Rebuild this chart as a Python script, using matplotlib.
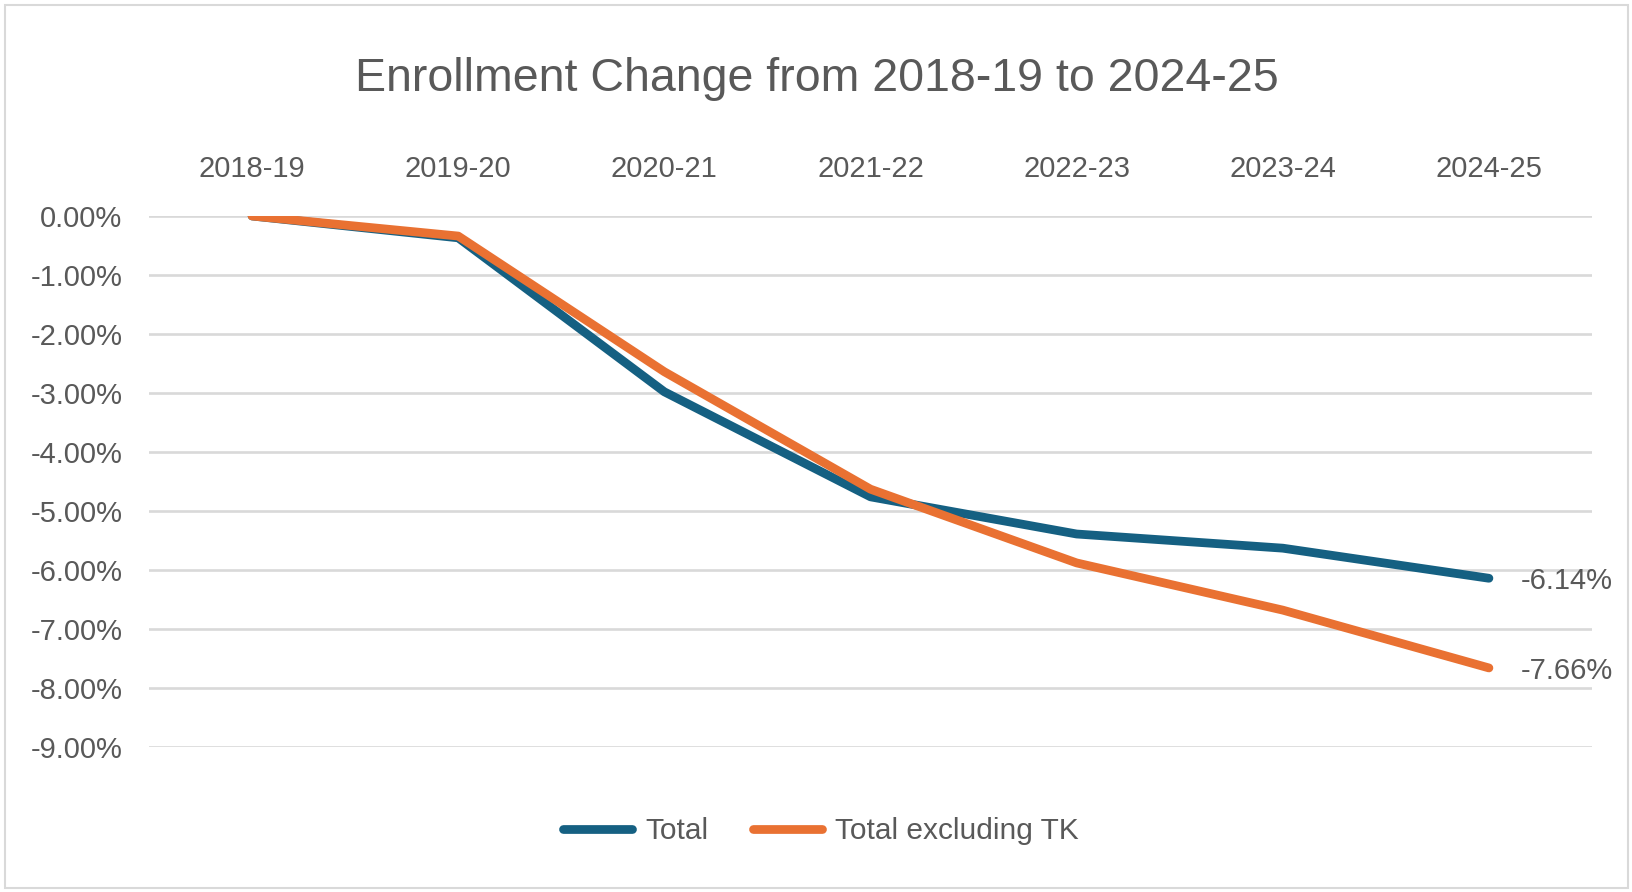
import matplotlib.pyplot as plt
from matplotlib.patches import Rectangle
from matplotlib.ticker import FuncFormatter

# data
years = ['2018-19', '2019-20', '2020-21', '2021-22', '2022-23', '2023-24', '2024-25']
total = [0.00, -0.37, -2.98, -4.76, -5.39, -5.63, -6.14]
total_excl_tk = [0.00, -0.34, -2.64, -4.63, -5.88, -6.68, -7.66]
y_ticks = [0, -1, -2, -3, -4, -5, -6, -7, -8, -9]

blue = '#156082'
orange = '#E97132'
text_grey = '#595959'
grid_grey = '#D9D9D9'
fonts = ['Liberation Sans', 'DejaVu Sans']

W, H = 1632, 892
fig = plt.figure(figsize=(W / 100, H / 100), dpi=100)

# outer chart border
fig.patches.append(Rectangle((5 / W, 4 / H), 1623 / W, 883 / H, transform=fig.transFigure,
                             fill=False, edgecolor=grid_grey, linewidth=1.5))

ax = fig.add_axes([149 / W, 1 - 747 / H, (1592 - 149) / W, (747 - 216) / H])

x = list(range(len(years)))
ax.plot(x, total, color=blue, lw=6.3, solid_capstyle='round', solid_joinstyle='round',
        label='Total', zorder=3)
ax.plot(x, total_excl_tk, color=orange, lw=6.3, solid_capstyle='round', solid_joinstyle='round',
        label='Total excluding TK', zorder=4)

ax.set_xlim(-0.5, len(years) - 0.5)
ax.set_ylim(-9, 0)
ax.set_yticks(y_ticks)
ax.yaxis.set_major_formatter(FuncFormatter(lambda v, p: f'{v:.2f}%'))
ax.set_xticks(x)
ax.set_xticklabels(years)
ax.xaxis.tick_top()
ax.tick_params(axis='x', length=0, pad=24, labelsize=21, labelcolor=text_grey)
ax.tick_params(axis='y', length=0, pad=19, labelsize=21, labelcolor=text_grey)
for lbl in ax.get_xticklabels() + ax.get_yticklabels():
    lbl.set_fontfamily(fonts)

ax.grid(axis='y', color=grid_grey, lw=1.9, zorder=0)
ax.set_axisbelow(True)
for s in ax.spines.values():
    s.set_visible(False)
ax.patch.set_alpha(0)

# end-point data labels
for series in (total, total_excl_tk):
    ax.annotate(f'{series[-1]:.2f}%', (x[-1], series[-1]), xytext=(23, -2),
                textcoords='offset points', ha='left', va='center',
                fontsize=21, color=text_grey, family=fonts)

fig.text(817 / W, 1 - 79 / H, 'Enrollment Change from 2018-19 to 2024-25',
         ha='center', va='center', fontsize=33.5, color=text_grey, family=fonts)

leg = fig.legend(loc='center', bbox_to_anchor=(821 / W, 1 - 831 / H), ncol=2, frameon=False,
                 handlelength=2.3, handletextpad=0.45, columnspacing=1.5,
                 prop={'family': fonts, 'size': 21.5})
for t in leg.get_texts():
    t.set_color(text_grey)

fig.savefig('out.png', dpi=100, facecolor='white')
